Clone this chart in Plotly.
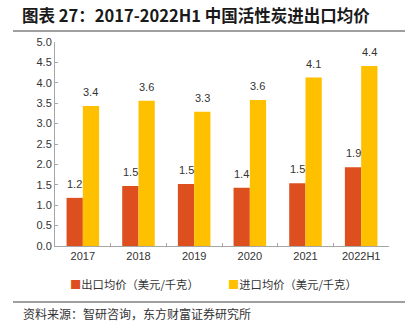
import plotly.graph_objects as go

# Average export / import prices of activated carbon, USD per kg
years = ["2017", "2018", "2019", "2020", "2021", "2022H1"]
export_price = [1.18, 1.47, 1.52, 1.43, 1.54, 1.93]
import_price = [3.43, 3.56, 3.29, 3.58, 4.13, 4.41]
export_name = "出口均价（美元/千克）"
import_name = "进口均价（美元/千克）"

title_text = "图表 27：2017-2022H1 中国活性炭进出口均价"
source_text = "资料来源：智研咨询，东方财富证券研究所"

CJK = "Noto Sans CJK SC"
NUM = "Liberation Sans, Arial"
RED = "#DE4F1F"
GOLD = "#FFC000"
TXT = "#333333"

W, H = 412, 331
ML, MR, MT, MB = 55, 23, 42, 85
plot_h = H - MT - MB
plot_w = W - ML - MR
BARGAP = 0.415


def py(px):
    """Convert a pixel row (from top) to paper y."""
    return (H - MB - px) / plot_h


def px_(x):
    """Convert a pixel column to paper x."""
    return (x - ML) / plot_w


fig = go.Figure()
fig.add_trace(go.Bar(
    x=years, y=export_price, name=export_name,
    marker=dict(color=RED, line=dict(width=0)),
))
fig.add_trace(go.Bar(
    x=years, y=import_price, name=import_name,
    marker=dict(color=GOLD, line=dict(width=0)),
))

# value labels above each bar; x is the category index, shifted to its bar
bar_w = (1 - BARGAP) / 2
annotations = []
for values, offset in ((export_price, -bar_w / 2), (import_price, bar_w / 2)):
    for i, v in enumerate(values):
        annotations.append(dict(
            x=i + offset, y=v, xref="x", yref="y", text=f"{v:.1f}",
            yshift=14, xanchor="center", yanchor="middle",
            showarrow=False, font=dict(family=NUM, size=11, color=TXT),
        ))

# legend row
legend_items = [(export_name, RED, 68), (import_name, GOLD, 226)]
for name, color, x0 in legend_items:
    annotations.append(dict(
        text=f"<span style='color:{color}'>■</span>{name}",
        xref="paper", yref="paper", x=px_(x0), y=py(284),
        xanchor="left", yanchor="middle", showarrow=False,
        font=dict(family=CJK, size=11.3, color=TXT),
    ))

annotations.append(dict(
    text=source_text, xref="paper", yref="paper",
    x=px_(21), y=py(313), xanchor="left", yanchor="middle",
    showarrow=False, font=dict(family=CJK, size=12, color=TXT),
))

fig.update_layout(
    width=W, height=H,
    margin=dict(l=ML, r=MR, t=MT, b=MB),
    paper_bgcolor="white", plot_bgcolor="white",
    barmode="group", bargap=BARGAP, bargroupgap=0,
    showlegend=False,
    title=dict(
        text="<b>" + title_text + "</b>",
        x=22 / W, xref="container", xanchor="left",
        y=1 - 16 / H, yref="container", yanchor="middle",
        font=dict(family=CJK, size=16.5, color="#1a1a1a"),
    ),
    xaxis=dict(
        type="category", range=[-0.5, len(years) - 0.5],
        showline=True, linecolor="#A6A6A6", linewidth=1,
        ticks="inside", tickson="boundaries", ticklen=3, tickcolor="#A6A6A6",
        tickfont=dict(family=NUM, size=11, color=TXT),
        showgrid=False, zeroline=False,
    ),
    yaxis=dict(
        range=[0, 5], dtick=0.5, tickformat=".1f",
        showline=True, linecolor="#A6A6A6", linewidth=1,
        ticks="inside", ticklen=3, tickcolor="#A6A6A6",
        tickfont=dict(family=NUM, size=11, color=TXT),
        showgrid=False, zeroline=False,
    ),
    shapes=[
        dict(type="line", xref="paper", yref="paper",
             x0=px_(13), x1=px_(405), y0=py(31), y1=py(31),
             line=dict(color="#7F7F7F", width=1.5)),
        dict(type="line", xref="paper", yref="paper",
             x0=px_(13), x1=px_(405), y0=py(302), y1=py(302),
             line=dict(color="#7F7F7F", width=1.5)),
    ],
    annotations=annotations,
)

fig.write_html("out.html")
